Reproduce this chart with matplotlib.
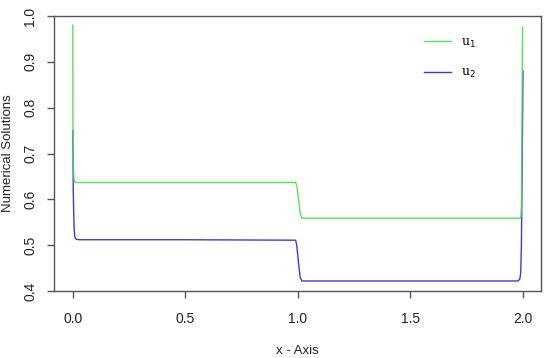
import matplotlib
matplotlib.use("Agg")
import matplotlib.pyplot as plt

# u1 (green) profile
x_u1 = [0.0, 0.0005, 0.001, 0.003, 0.006, 0.012, 0.5, 0.990, 0.995, 1.003, 1.010, 1.018, 1.5, 1.987, 1.991, 1.994, 1.996, 1.998]
u1 = [0.98, 0.75, 0.675, 0.66, 0.642, 0.637, 0.637, 0.637, 0.630, 0.600, 0.570, 0.559, 0.559, 0.559, 0.562, 0.60, 0.80, 0.976]

# u2 (blue) profile
x_u2 = [0.0, 0.001, 0.002, 0.004, 0.006, 0.009, 0.015, 0.03, 0.5, 0.990, 0.995, 1.003, 1.010, 1.018, 1.5, 1.978, 1.986, 1.990, 1.993, 1.996, 2.0]
u2 = [0.75, 0.68, 0.62, 0.57, 0.535, 0.518, 0.513, 0.512, 0.512, 0.511, 0.500, 0.460, 0.430, 0.422, 0.422, 0.422, 0.426, 0.44, 0.50, 0.645, 0.88]

xticks = [0.0, 0.5, 1.0, 1.5, 2.0]
yticks = [0.4, 0.5, 0.6, 0.7, 0.8, 0.9, 1.0]

plt.rcParams['font.family'] = ['Liberation Sans', 'DejaVu Sans']

fig = plt.figure(figsize=(5.5, 3.58), dpi=100)
ax = fig.add_axes([0.098, 0.187, 0.8856, 0.768])

ax.plot(x_u2, u2, color='#3c3cd8', lw=1.0, label='u$_2$', zorder=2)
ax.plot(x_u1, u1, color='#44e044', lw=1.0, label='u$_1$', zorder=3, alpha=0.9)

ax.set_xlim(-0.084, 2.08)
ax.set_ylim(0.4, 1.0)
ax.set_xticks(xticks)
ax.set_xticklabels([f"{t:.1f}" for t in xticks])
ax.set_yticks(yticks)
ax.set_yticklabels([f"{t:.1f}" for t in yticks], rotation=90, va='center')

for s in ax.spines.values():
    s.set_color('#555555')
    s.set_linewidth(1.0)
ax.tick_params(axis='both', direction='out', length=5, width=1.0, color='#555555',
               labelsize=10, labelcolor='#222222')
ax.tick_params(axis='x', pad=10)
ax.tick_params(axis='y', pad=7)

ax.set_xlabel('x - Axis', fontsize=9.5, color='#222222', labelpad=14)
ax.set_ylabel('Numerical Solutions', fontsize=9.5, color='#222222', labelpad=7)

handles, labels = ax.get_legend_handles_labels()
leg = ax.legend(handles[::-1], labels[::-1], loc='upper right', bbox_to_anchor=(0.89, 0.97),
                frameon=False, handlelength=2.2, labelspacing=1.3,
                prop={'family': 'DejaVu Serif', 'size': 9})

fig.savefig('out.png', dpi=100)
